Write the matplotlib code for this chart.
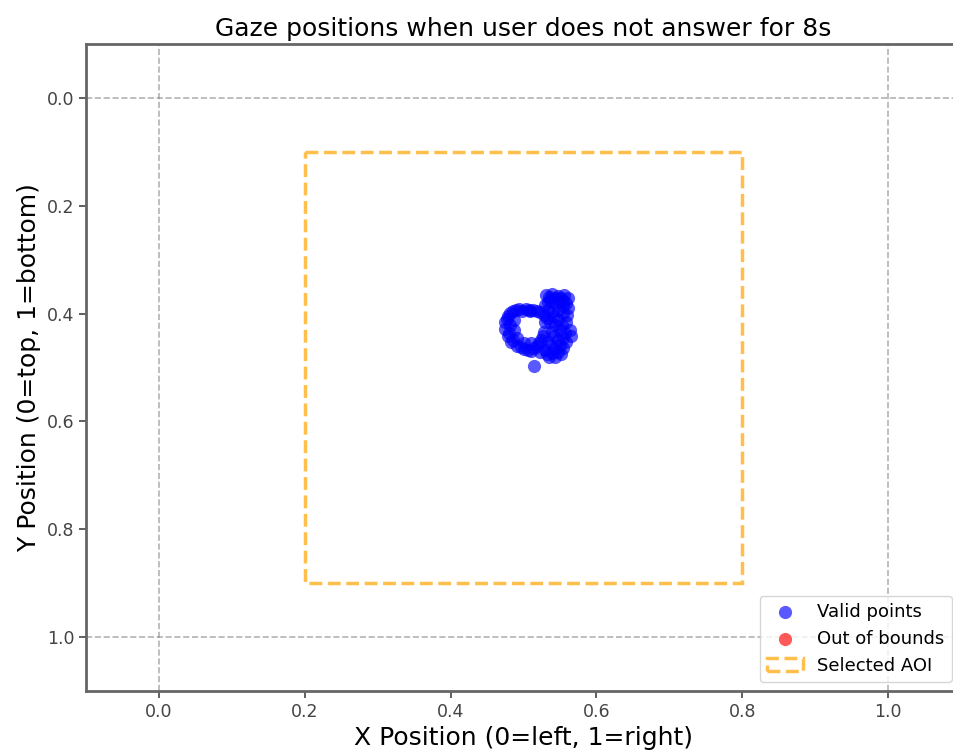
import matplotlib
matplotlib.use("Agg")
import matplotlib.pyplot as plt
from matplotlib.patches import Rectangle

# gaze samples (normalised screen coords, y downwards)
gaze_x = [0.5309, 0.5391, 0.5473, 0.5556, 0.5610, 0.5583, 0.5501, 0.5364, 0.5295,
          0.5610, 0.5597, 0.5583, 0.5638, 0.5652, 0.5583, 0.5542, 0.5514, 0.5432,
          0.5350, 0.5432, 0.5473, 0.5501, 0.5473, 0.5473, 0.5391, 0.5364, 0.5391,
          0.5336, 0.5295, 0.5226, 0.5226, 0.5130, 0.5034, 0.4938, 0.4856, 0.4787,
          0.4746, 0.4746, 0.4787, 0.4829, 0.4911, 0.5007, 0.5103, 0.5185, 0.5240,
          0.5281, 0.5295, 0.5281, 0.4870, 0.4870, 0.4911, 0.4979, 0.5089, 0.5007,
          0.5103, 0.5144,
          0.5350, 0.5432, 0.5514, 0.5542, 0.5432, 0.5336, 0.5542, 0.5542, 0.5528,
          0.5569, 0.5542, 0.5501, 0.5473, 0.5391, 0.5322, 0.5377, 0.5418, 0.5432,
          0.5418, 0.5336, 0.5322, 0.5185, 0.5075, 0.4897, 0.4815, 0.4774, 0.4815,
          0.4801, 0.4856, 0.4966, 0.5062, 0.5144, 0.5212, 0.5267]
gaze_y = [0.3655, 0.3636, 0.3673, 0.3655, 0.3711, 0.3803, 0.3785, 0.3748, 0.3840,
          0.3896, 0.4026, 0.4156, 0.4304, 0.4416, 0.4527, 0.4638, 0.4750, 0.4805,
          0.4805, 0.4638, 0.4490, 0.4304, 0.4119, 0.3933, 0.3970, 0.4156, 0.4341,
          0.4527, 0.4675, 0.4712, 0.3970, 0.3933, 0.3915, 0.3915, 0.3952, 0.4045,
          0.4156, 0.4286, 0.4416, 0.4527, 0.4601, 0.4657, 0.4694, 0.4601, 0.4490,
          0.4341, 0.4156, 0.4026, 0.4119, 0.4304, 0.4453, 0.3952, 0.3952, 0.4545,
          0.4545, 0.4972,
          0.3692, 0.3711, 0.3711, 0.3766, 0.3803, 0.3785, 0.3859, 0.3989, 0.4212,
          0.4360, 0.4453, 0.4583, 0.4712, 0.4731, 0.4750, 0.4583, 0.4416, 0.4212,
          0.4045, 0.3933, 0.4082, 0.3952, 0.3933, 0.3933, 0.3989, 0.4100, 0.4212,
          0.4360, 0.4490, 0.4620, 0.4675, 0.4638, 0.4545, 0.4416]
out_x = []
out_y = []

aoi = (0.2, 0.1, 0.8, 0.9)  # x0, y0, x1, y1

fig = plt.figure(figsize=(9.54, 7.53), dpi=100)
ax = fig.add_axes([0.0901, 0.0823, 0.9172, 0.8593])

ax.scatter(gaze_x, gaze_y, c="blue", s=90, alpha=0.65, linewidths=0,
           label="Valid points")
ax.scatter(out_x, out_y, c="red", s=90, alpha=0.65, linewidths=0,
           label="Out of bounds")

rect = Rectangle((aoi[0], aoi[1]), aoi[2] - aoi[0], aoi[3] - aoi[1], fill=False,
                 edgecolor="orange", linestyle="--", linewidth=2.5, alpha=0.7,
                 label="Selected AOI")
ax.add_patch(rect)

for v in (0, 1):
    ax.axhline(v, color="gray", linestyle="--", linewidth=1.2, alpha=0.6)
    ax.axvline(v, color="gray", linestyle="--", linewidth=1.2, alpha=0.6)

ax.set_xlim(-0.1, 1.1)
ax.set_ylim(1.1, -0.1)
ax.set_xticks([0.0, 0.2, 0.4, 0.6, 0.8, 1.0])
ax.set_yticks([0.0, 0.2, 0.4, 0.6, 0.8, 1.0])
ax.tick_params(labelsize=12.5, colors="#444", width=1.2, length=5)
for sp in ax.spines.values():
    sp.set_color("#666")
    sp.set_linewidth(2)

ax.set_title("Gaze positions when user does not answer for 8s", fontsize=18)
ax.set_xlabel("X Position (0=left, 1=right)", fontsize=18)
ax.set_ylabel("Y Position (0=top, 1=bottom)", fontsize=18)
ax.legend(loc="lower right", fontsize=13)

fig.savefig("out.png", dpi=100)
